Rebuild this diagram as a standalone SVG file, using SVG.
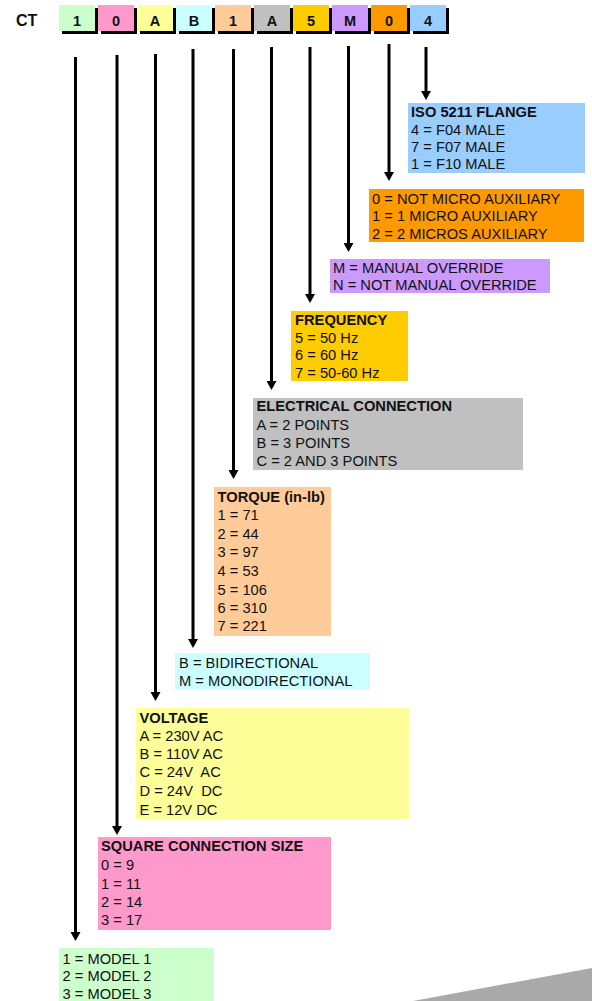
<svg xmlns="http://www.w3.org/2000/svg" width="592" height="1001" viewBox="0 0 592 1001">
<style>
text{font-family:"Liberation Sans",Arial,sans-serif;font-size:14.7px;fill:#111}
.b{font-weight:bold}
.hd{font-weight:bold;font-size:14.5px;text-anchor:middle}
.sh{fill:#000}
.cn line{stroke:#000;stroke-width:3;marker-end:url(#ah)}
</style>
<defs>
<marker id="ah" markerUnits="userSpaceOnUse" markerWidth="10" markerHeight="10" refX="3" refY="5" orient="auto">
<path d="M0,0 L9,5 L0,10 z" fill="#000"/>
</marker>
</defs>
<rect width="592" height="1001" fill="#fff"/>
<g id="header">
<text class="b" x="16" y="26" style="font-size:16px">CT</text>
<g id="cell1"><rect class="sh" x="62" y="8" width="36" height="26"/><rect x="59" y="5" width="36" height="26" fill="#CCFFCC"/><text class="hd" x="77" y="26">1</text></g>
<g id="cell2"><rect class="sh" x="101" y="8" width="36" height="26"/><rect x="98" y="5" width="36" height="26" fill="#FF99CC"/><text class="hd" x="116" y="26">0</text></g>
<g id="cell3"><rect class="sh" x="140" y="8" width="36" height="26"/><rect x="137" y="5" width="36" height="26" fill="#FFFF99"/><text class="hd" x="155" y="26">A</text></g>
<g id="cell4"><rect class="sh" x="179" y="8" width="36" height="26"/><rect x="176" y="5" width="36" height="26" fill="#CCFFFF"/><text class="hd" x="194" y="26">B</text></g>
<g id="cell5"><rect class="sh" x="218" y="8" width="36" height="26"/><rect x="215" y="5" width="36" height="26" fill="#FFCC99"/><text class="hd" x="233" y="26">1</text></g>
<g id="cell6"><rect class="sh" x="257" y="8" width="36" height="26"/><rect x="254" y="5" width="36" height="26" fill="#C0C0C0"/><text class="hd" x="272" y="26">A</text></g>
<g id="cell7"><rect class="sh" x="296" y="8" width="36" height="26"/><rect x="293" y="5" width="36" height="26" fill="#FFCC00"/><text class="hd" x="311" y="26">5</text></g>
<g id="cell8"><rect class="sh" x="335" y="8" width="36" height="26"/><rect x="332" y="5" width="36" height="26" fill="#CC99FF"/><text class="hd" x="350" y="26">M</text></g>
<g id="cell9"><rect class="sh" x="374" y="8" width="36" height="26"/><rect x="371" y="5" width="36" height="26" fill="#FF9900"/><text class="hd" x="389" y="26">0</text></g>
<g id="cell10"><rect class="sh" x="413" y="8" width="36" height="26"/><rect x="410" y="5" width="36" height="26" fill="#99CCFF"/><text class="hd" x="428" y="26">4</text></g>
</g>
<g id="connectors" class="cn">
<line x1="75.5" y1="57" x2="75.5" y2="935"/>
<line x1="117" y1="55" x2="117" y2="829"/>
<line x1="155.5" y1="54" x2="155.5" y2="695"/>
<line x1="193" y1="49" x2="193" y2="642"/>
<line x1="233.5" y1="49" x2="233.5" y2="473"/>
<line x1="271.5" y1="47" x2="271.5" y2="384"/>
<line x1="310" y1="47" x2="310" y2="297"/>
<line x1="348.5" y1="46" x2="348.5" y2="246"/>
<line x1="389" y1="44" x2="389" y2="175"/>
<line x1="426" y1="47" x2="426" y2="94"/>
</g>
<g id="iso">
<rect x="408" y="103" width="177" height="70" fill="#99CCFF"/>
<text class="b" x="411" y="117">ISO 5211 FLANGE</text>
<text x="411" y="134.5">4 = F04 MALE</text>
<text x="411" y="152">7 = F07 MALE</text>
<text x="411" y="169">1 = F10 MALE</text>
</g>
<g id="micro">
<rect x="369" y="189" width="215" height="53" fill="#FF9900"/>
<text x="372" y="203.5">0 = NOT MICRO AUXILIARY</text>
<text x="372" y="221">1 = 1 MICRO AUXILIARY</text>
<text x="372" y="238.7">2 = 2 MICROS AUXILIARY</text>
</g>
<g id="override">
<rect x="330" y="259" width="220" height="34" fill="#CC99FF"/>
<text x="333" y="272.6">M = MANUAL OVERRIDE</text>
<text x="333" y="290.3">N = NOT MANUAL OVERRIDE</text>
</g>
<g id="frequency">
<rect x="291" y="311" width="117" height="70" fill="#FFCC00"/>
<text class="b" x="295" y="325.3">FREQUENCY</text>
<text x="295" y="342.6">5 = 50 Hz</text>
<text x="295" y="360.3">6 = 60 Hz</text>
<text x="295" y="377.6">7 = 50-60 Hz</text>
</g>
<g id="electrical">
<rect x="253" y="398" width="270" height="72" fill="#C0C0C0"/>
<text class="b" x="256.5" y="411.3">ELECTRICAL CONNECTION</text>
<text x="256.5" y="429.6">A = 2 POINTS</text>
<text x="256.5" y="448">B = 3 POINTS</text>
<text x="256.5" y="466">C = 2 AND 3 POINTS</text>
</g>
<g id="torque">
<rect x="214" y="487" width="117" height="149" fill="#FFCC99"/>
<text class="b" x="217.5" y="502">TORQUE (in-lb)</text>
<text x="217.5" y="520.3">1 = 71</text>
<text x="217.5" y="538.6">2 = 44</text>
<text x="217.5" y="557.3">3 = 97</text>
<text x="217.5" y="576">4 = 53</text>
<text x="217.5" y="594.6">5 = 106</text>
<text x="217.5" y="613">6 = 310</text>
<text x="217.5" y="631.3">7 = 221</text>
</g>
<g id="direction">
<rect x="175" y="653" width="195" height="37" fill="#CCFFFF"/>
<text x="179" y="668">B = BIDIRECTIONAL</text>
<text x="179" y="686.3">M = MONODIRECTIONAL</text>
</g>
<g id="voltage">
<rect x="136" y="708" width="273" height="111" fill="#FFFF99"/>
<text class="b" x="139.5" y="722.6">VOLTAGE</text>
<text x="139.5" y="741">A = 230V AC</text>
<text x="139.5" y="759.3">B = 110V AC</text>
<text x="139.5" y="777.3" xml:space="preserve">C = 24V  AC</text>
<text x="139.5" y="796" xml:space="preserve">D = 24V  DC</text>
<text x="139.5" y="815.3">E = 12V DC</text>
</g>
<g id="square">
<rect x="98" y="837" width="233" height="93" fill="#FF99CC"/>
<text class="b" x="101" y="851.3">SQUARE CONNECTION SIZE</text>
<text x="101" y="870.3">0 = 9</text>
<text x="101" y="888.6">1 = 11</text>
<text x="101" y="907">2 = 14</text>
<text x="101" y="925.3">3 = 17</text>
</g>
<g id="model">
<rect x="59" y="948" width="155" height="53" fill="#CCFFCC"/>
<text x="62.5" y="963.6">1 = MODEL 1</text>
<text x="62.5" y="981.3">2 = MODEL 2</text>
<text x="62.5" y="999.3">3 = MODEL 3</text>
</g>
<polygon points="413,1001 592,968 592,1001" fill="#AAAAAA"/>
</svg>
